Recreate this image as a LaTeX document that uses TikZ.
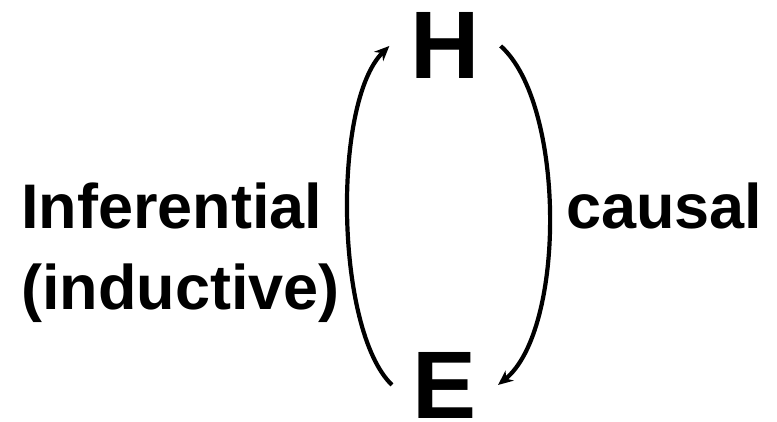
\documentclass[tikz,border=0pt]{standalone}
\usepackage{fontspec}
\setmainfont{Liberation Sans}
\usepackage{tikz}
\usetikzlibrary{arrows.meta, positioning}
\tikzset{
  letter/.style={inner sep=0pt, outer xsep=21pt, outer ysep=0pt, anchor=base,
              font=\fontsize{96}{100}\selectfont\bfseries},
  lbl/.style={inner sep=0pt, anchor=base west, font=\fontsize{63}{80}\selectfont\bfseries},
  flow/.style={-{Stealth[length=15pt, width=13pt]}, line width=4.2pt},
}
\begin{document}
\begin{tikzpicture}[x=1pt, y=-1pt]
    \useasboundingbox (0,0) rectangle (777,422);
    \node[letter] (H) at (445,79) {H};
    \node[letter] (E) at (445,418) {E};

    \node[lbl] (infer) at (21,229) {Inferential};
    \node[lbl] (induct) at ([yshift=-80pt]infer.base west) {(inductive)};
    \node[lbl] (causal) at (566,229) {causal};

    \draw[flow] (E.west) .. controls +(-57,-55) and +(-57,56) .. (H.west);
    \draw[flow] (H.east) .. controls +(65,58) and +(68,-55) .. (E.east);
  \end{tikzpicture}
\end{document}
